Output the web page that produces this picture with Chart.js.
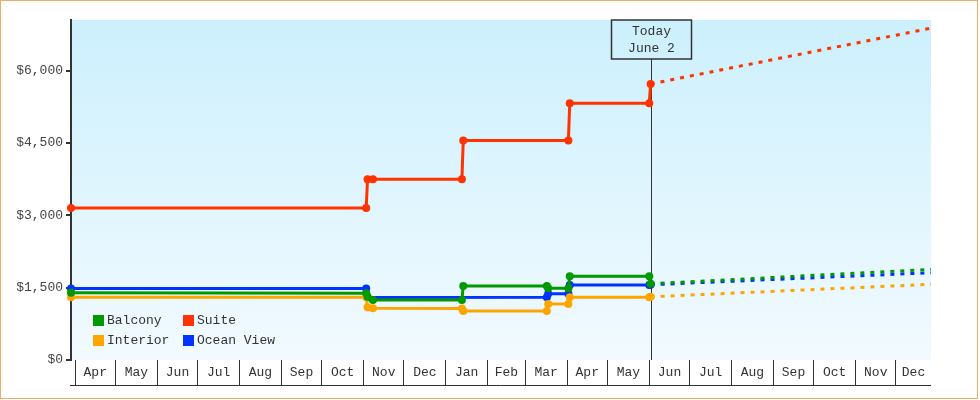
<!DOCTYPE html>
<html><head><meta charset="utf-8">
<script src="https://cdn.jsdelivr.net/npm/chart.js@4/dist/chart.umd.min.js"></script>
<style>html,body{margin:0;padding:0;background:#fff;}canvas{display:block;}</style>
</head><body>
<canvas id="c" width="980" height="400"></canvas>
<script>
// ---- data ----
const sampleDates = ['2012-03-29','2012-11-03','2012-11-04','2012-11-08','2013-01-13','2013-01-14','2013-03-17','2013-03-18','2013-04-02','2013-04-03','2013-06-01','2013-06-02'];
const balcony   = [1395,1385,1310,1245,1245,1535,1535,1490,1490,1735,1735,1580];
const suite     = [3150,3150,3750,3750,3750,4550,null,null,4550,5325,5325,5725];
const interior  = [1300,1300,1095,1075,1070,1015,1015,1160,1160,1300,1300,1310];
const oceanView = [1485,1485,1295,null,null,null,1300,1375,1375,1555,1555,1560];
const projDates = ['2013-06-02','2013-12-27'];
const balconyProj   = [1580,1880];
const suiteProj     = [5725,6880];
const interiorProj  = [1310,1570];
const oceanViewProj = [1560,1810];
const seriesNames = ['Balcony','Suite','Interior','Ocean View'];
const monthNames = ['Jan','Feb','Mar','Apr','May','Jun','Jul','Aug','Sep','Oct','Nov','Dec'];
const yTickValues = [0,1500,3000,4500,6000];
const xStart = '2012-03-29', xEnd = '2013-12-27';
const todayDate = '2013-06-02';
const todayLabel = ['Today','June 2'];
const yMax = 7050;

// ---- helpers ----
function day(s){const [y,m,d]=s.split('-').map(Number);return Date.UTC(y,m-1,d)/86400000;}
function pts(dates, vals){const out=[];dates.forEach((d,i)=>{if(vals[i]!=null)out.push({x:day(d),y:vals[i]});});return out;}
const xMin = day(xStart), xMax = day(xEnd);
const xTicks = [];
(function(){
  let y=2012, m=3;
  while(true){
    const s = Date.UTC(y,m,1)/86400000;
    if (s > xMax) break;
    let ny=y, nm=m+1; if(nm>11){nm=0;ny++;}
    const e = Date.UTC(ny,nm,1)/86400000;
    if (s >= xMin) xTicks.push({value:s, boundary:true, text:''});
    const a=Math.max(s,xMin), b=Math.min(e,xMax);
    xTicks.push({value:(a+b)/2, boundary:false, text:monthNames[m]});
    y=ny; m=nm;
  }
})();

const colors = ['#009900','#ff3300','#ffa500','#0033ff'];
const FONT = "'Liberation Mono', 'DejaVu Sans Mono', monospace";
Chart.defaults.font.family = FONT;
Chart.defaults.font.size = 13;
Chart.defaults.color = '#333';

function solid(label, data, color){
  return {label, data, borderColor:color, backgroundColor:color, borderWidth:3,
    pointRadius:4, pointHoverRadius:4, pointBorderWidth:0, pointBackgroundColor:color,
    tension:0, spanGaps:true, clip:false, fill:false};
}
function dashed(data, color){
  return {label:'', data, borderColor:color, backgroundColor:color, borderWidth:3,
    borderDash:[4,6], pointRadius:0, tension:0, clip:false, fill:false, isProj:true};
}

const bgPlugin = {
  id:'bg',
  beforeDraw(chart){
    const {ctx, chartArea:a} = chart;
    ctx.save();
    const g = ctx.createLinearGradient(0,a.top,0,a.bottom);
    g.addColorStop(0,'#ccf0fd');
    g.addColorStop(1,'#f2faff');
    ctx.fillStyle = g;
    ctx.fillRect(a.left,a.top,a.right-a.left,a.bottom-a.top);
    ctx.restore();
  },
  beforeDatasetsDraw(chart){
    const {ctx, chartArea:a, scales} = chart;
    const x = Math.round(scales.x.getPixelForValue(day(todayDate)))+0.5;
    ctx.save();
    ctx.strokeStyle='#333'; ctx.lineWidth=1.5;
    const bw=80, top=20, bh=39;
    ctx.strokeRect(x-40, top, bw, bh);
    ctx.lineWidth=1;
    ctx.beginPath(); ctx.moveTo(x, top+bh); ctx.lineTo(x, a.bottom); ctx.stroke();
    ctx.fillStyle='#333'; ctx.font='13px '+FONT; ctx.textAlign='center'; ctx.textBaseline='middle';
    ctx.fillText(todayLabel[0], x, top+12);
    ctx.fillText(todayLabel[1], x, top+29);
    ctx.restore();
  },
  afterDraw(chart){
    const {ctx, chartArea:a} = chart;
    ctx.save();
    // month row bottom line
    ctx.strokeStyle='#333'; ctx.lineWidth=1;
    ctx.beginPath(); ctx.moveTo(70, a.bottom+25.5); ctx.lineTo(a.right, a.bottom+25.5); ctx.stroke();
    // legend
    ctx.font='13px '+FONT; ctx.textBaseline='middle'; ctx.textAlign='left';
    const cols=[93,183], rows=[315,335];
    for(let i=0;i<4;i++){
      const ds = chart.data.datasets[i];
      const bx = cols[i%2], by = rows[Math.floor(i/2)];
      ctx.fillStyle = ds.borderColor; ctx.fillRect(bx,by,11,11);
      ctx.fillStyle = '#333'; ctx.fillText(ds.label, bx+14, by+6);
    }
    // outer border
    ctx.strokeStyle='#f0ab68'; ctx.lineWidth=1;
    ctx.strokeRect(0.5,0.5,977,398);
    ctx.restore();
  }
};

new Chart(document.getElementById('c'), {
  type:'line',
  data:{datasets:[
    solid(seriesNames[0], pts(sampleDates,balcony), colors[0]),
    solid(seriesNames[1], pts(sampleDates,suite), colors[1]),
    solid(seriesNames[2], pts(sampleDates,interior), colors[2]),
    solid(seriesNames[3], pts(sampleDates,oceanView), colors[3]),
    dashed(pts(projDates,balconyProj), colors[0]),
    dashed(pts(projDates,suiteProj), colors[1]),
    dashed(pts(projDates,interiorProj), colors[2]),
    dashed(pts(projDates,oceanViewProj), colors[3])
  ]},
  options:{
    responsive:false, animation:false, devicePixelRatio:1,
    layout:{padding:{top:20,right:49,left:0,bottom:0}},
    plugins:{legend:{display:false}, tooltip:{enabled:false}},
    events:[],
    scales:{
      x:{type:'linear', min:xMin, max:xMax, offset:false,
        afterBuildTicks(s){ s.ticks = xTicks.map(t=>({value:t.value})); },
        afterFit(s){ s.height = 40; },
        border:{display:false},
        grid:{display:true, drawOnChartArea:false, drawTicks:true, tickLength:25,
          color:(c)=> (xTicks[c.index] && xTicks[c.index].boundary) ? '#333' : 'rgba(0,0,0,0)', lineWidth:1},
        ticks:{autoSkip:false, maxRotation:0, minRotation:0, padding:-20, color:'#333',
          callback:(v,i)=> xTicks[i] ? xTicks[i].text : ''}
      },
      y:{type:'linear', min:0, max:yMax,
        afterBuildTicks(s){ s.ticks = yTickValues.map(v=>({value:v})); },
        afterFit(s){ s.width = 71; },
        border:{display:true, color:'#333', width:2},
        grid:{display:true, drawOnChartArea:false, drawTicks:true, tickLength:5, color:'#333', lineWidth:2},
        ticks:{padding:3, color:'#444', callback:(v)=> '$'+Number(v).toLocaleString('en-US')}
      }
    }
  },
  plugins:[bgPlugin]
});
</script>
</body></html>
